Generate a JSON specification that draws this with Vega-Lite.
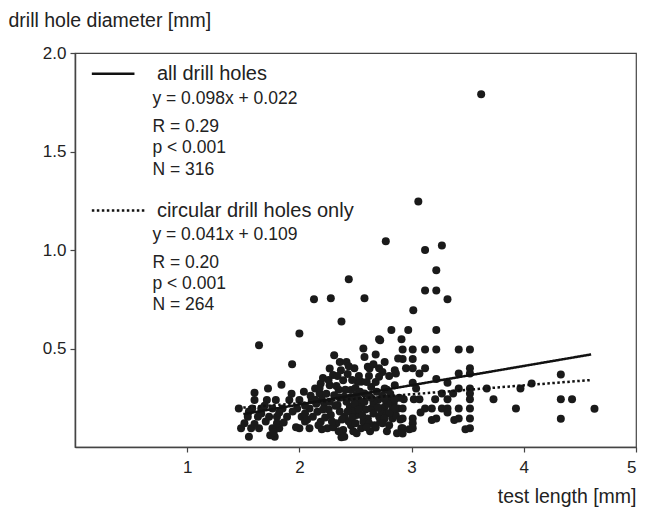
{
  "$schema": "https://vega.github.io/schema/vega-lite/v6.json",
  "width": 561,
  "height": 394,
  "autosize": {"type": "none"},
  "padding": {"left": 75, "top": 53, "right": 20, "bottom": 62},
  "config": {
    "font": "Liberation Sans",
    "view": {"stroke": "#444", "strokeWidth": 1.2},
    "axis": {"grid": false, "domainColor": "#444", "domainWidth": 1.5, "tickColor": "#444", "tickWidth": 1.2, "tickSize": 5, "labelFont": "Liberation Sans", "labelFontSize": 17, "labelColor": "#222", "titleFont": "Liberation Sans", "titleFontSize": 19.5, "titleFontWeight": "normal", "titleColor": "#222"}
  },
  "datasets": {
    "holes": [
      {"len":1.64,"dia":0.517},{"len":1.935,"dia":0.42},{"len":1.84,"dia":0.316},{"len":1.72,"dia":0.297},{"len":1.60,"dia":0.275},{"len":2.14,"dia":0.297},
      {"len":1.60,"dia":0.238},{"len":1.71,"dia":0.238},{"len":1.79,"dia":0.238},{"len":1.91,"dia":0.238},{"len":2.00,"dia":0.238},{"len":2.11,"dia":0.238},
      {"len":1.46,"dia":0.196},{"len":1.58,"dia":0.196},{"len":1.66,"dia":0.196},{"len":1.76,"dia":0.196},{"len":1.85,"dia":0.196},{"len":1.98,"dia":0.196},{"len":2.09,"dia":0.196},
      {"len":1.54,"dia":0.154},{"len":1.63,"dia":0.154},{"len":1.73,"dia":0.154},{"len":1.80,"dia":0.154},{"len":1.89,"dia":0.154},{"len":2.02,"dia":0.154},{"len":2.12,"dia":0.154},
      {"len":1.48,"dia":0.095},{"len":1.57,"dia":0.095},{"len":1.64,"dia":0.095},{"len":1.76,"dia":0.095},{"len":1.82,"dia":0.095},{"len":2.00,"dia":0.095},{"len":2.09,"dia":0.095},
      {"len":1.55,"dia":0.052},{"len":1.78,"dia":0.052},{"len":2.00,"dia":0.576},
      {"len":1.60,"dia":0.117},{"len":1.74,"dia":0.06},{"len":1.80,"dia":0.12},{"len":1.97,"dia":0.10},{"len":1.69,"dia":0.21},{"len":1.82,"dia":0.175},{"len":1.94,"dia":0.18},{"len":2.05,"dia":0.21},{"len":1.70,"dia":0.13},{"len":1.86,"dia":0.125},{"len":1.77,"dia":0.075},{"len":2.05,"dia":0.13},{"len":1.93,"dia":0.27},{"len":2.04,"dia":0.28},{"len":1.66,"dia":0.17},{"len":1.55,"dia":0.18},{"len":1.51,"dia":0.12},
      {"len":2.13,"dia":0.75},{"len":2.28,"dia":0.755},{"len":2.58,"dia":0.755},{"len":2.44,"dia":0.851},{"len":2.375,"dia":0.637},
      {"len":2.57,"dia":0.50},{"len":2.72,"dia":0.542},{"len":2.58,"dia":0.457},{"len":2.31,"dia":0.466},{"len":2.36,"dia":0.432},{"len":2.42,"dia":0.432},{"len":2.88,"dia":0.449},{"len":2.76,"dia":0.432},{"len":2.61,"dia":0.407},{"len":2.74,"dia":0.381},{"len":2.86,"dia":0.373},{"len":2.71,"dia":0.356},{"len":2.30,"dia":0.365},{"len":2.39,"dia":0.339},{"len":2.19,"dia":0.322},{"len":2.27,"dia":0.314},{"len":2.55,"dia":0.331},{"len":2.64,"dia":0.305},{"len":2.85,"dia":0.314},{"len":2.46,"dia":0.289},{"len":2.18,"dia":0.272},{"len":2.31,"dia":0.263},{"len":2.40,"dia":0.255},{"len":2.51,"dia":0.263},{"len":2.58,"dia":0.272},{"len":2.70,"dia":0.238},{"len":2.80,"dia":0.247},{"len":2.22,"dia":0.221},{"len":2.34,"dia":0.213},{"len":2.45,"dia":0.204},{"len":2.55,"dia":0.213},{"len":2.64,"dia":0.196},{"len":2.76,"dia":0.204},{"len":2.88,"dia":0.196},{"len":2.16,"dia":0.179},{"len":2.28,"dia":0.162},{"len":2.40,"dia":0.154},{"len":2.51,"dia":0.162},{"len":2.61,"dia":0.145},{"len":2.71,"dia":0.154},{"len":2.83,"dia":0.145},{"len":2.19,"dia":0.128},{"len":2.33,"dia":0.12},{"len":2.46,"dia":0.111},{"len":2.67,"dia":0.111},{"len":2.80,"dia":0.111},{"len":2.25,"dia":0.095},{"len":2.39,"dia":0.086},{"len":2.91,"dia":0.095},{"len":2.40,"dia":0.052},{"len":2.55,"dia":0.095},
      {"len":2.27,"dia":0.398},{"len":2.625,"dia":0.398},{"len":2.85,"dia":0.39},{"len":2.52,"dia":0.331},
      {"len":2.375,"dia":0.05},{"len":2.51,"dia":0.07},{"len":2.68,"dia":0.099},{"len":2.87,"dia":0.07},{"len":2.98,"dia":0.09},
      {"len":2.20,"dia":0.24},{"len":2.26,"dia":0.19},{"len":2.36,"dia":0.18},{"len":2.42,"dia":0.23},{"len":2.48,"dia":0.185},{"len":2.53,"dia":0.24},{"len":2.59,"dia":0.19},{"len":2.62,"dia":0.26},{"len":2.66,"dia":0.225},{"len":2.35,"dia":0.29},{"len":2.23,"dia":0.15},{"len":2.30,"dia":0.10},{"len":2.44,"dia":0.13},{"len":2.57,"dia":0.13},{"len":2.63,"dia":0.08},{"len":2.50,"dia":0.30},{"len":2.43,"dia":0.37},{"len":2.49,"dia":0.40},{"len":2.68,"dia":0.33},{"len":2.78,"dia":0.29},{"len":2.73,"dia":0.18},{"len":2.84,"dia":0.22},{"len":2.21,"dia":0.35},{"len":2.37,"dia":0.39},
      {"len":2.05,"dia":0.17},{"len":2.10,"dia":0.26},{"len":2.15,"dia":0.22},{"len":2.17,"dia":0.11},{"len":2.21,"dia":0.19},{"len":2.24,"dia":0.27},{"len":2.27,"dia":0.23},{"len":2.29,"dia":0.13},{"len":2.32,"dia":0.21},{"len":2.33,"dia":0.31},{"len":2.36,"dia":0.25},{"len":2.38,"dia":0.14},{"len":2.41,"dia":0.29},{"len":2.43,"dia":0.18},{"len":2.45,"dia":0.25},{"len":2.47,"dia":0.15},{"len":2.49,"dia":0.22},{"len":2.50,"dia":0.12},{"len":2.53,"dia":0.19},{"len":2.54,"dia":0.28},{"len":2.56,"dia":0.16},{"len":2.58,"dia":0.23},{"len":2.60,"dia":0.33},{"len":2.62,"dia":0.12},{"len":2.64,"dia":0.25},{"len":2.66,"dia":0.17},{"len":2.69,"dia":0.28},{"len":2.70,"dia":0.20},{"len":2.72,"dia":0.13},{"len":2.74,"dia":0.26},{"len":2.78,"dia":0.17},{"len":2.79,"dia":0.22},{"len":2.81,"dia":0.27},{"len":2.83,"dia":0.19},{"len":2.86,"dia":0.16},{"len":2.89,"dia":0.25},{"len":2.90,"dia":0.14},{"len":2.26,"dia":0.34},{"len":2.34,"dia":0.36},{"len":2.47,"dia":0.34},{"len":2.62,"dia":0.36},{"len":2.66,"dia":0.42},{"len":2.53,"dia":0.36},{"len":2.44,"dia":0.41},{"len":2.68,"dia":0.47},{"len":2.80,"dia":0.36},{"len":2.14,"dia":0.24},{"len":2.07,"dia":0.14},{"len":2.18,"dia":0.30},{"len":2.20,"dia":0.09},{"len":2.35,"dia":0.08},{"len":2.48,"dia":0.08},{"len":2.60,"dia":0.10},{"len":2.78,"dia":0.08},
      {"len":3.015,"dia":0.694},{"len":2.82,"dia":0.594},{"len":2.97,"dia":0.594},{"len":3.22,"dia":0.594},{"len":2.71,"dia":0.547},{"len":2.91,"dia":0.547},
      {"len":2.92,"dia":0.495},{"len":3.01,"dia":0.495},{"len":3.12,"dia":0.495},{"len":3.22,"dia":0.495},{"len":3.42,"dia":0.495},{"len":3.52,"dia":0.495},
      {"len":2.92,"dia":0.447},{"len":3.01,"dia":0.447},
      {"len":2.71,"dia":0.40},{"len":2.95,"dia":0.40},{"len":3.01,"dia":0.40},{"len":3.12,"dia":0.40},{"len":3.52,"dia":0.40},
      {"len":3.07,"dia":0.373},{"len":3.42,"dia":0.373},{"len":3.52,"dia":0.373},
      {"len":3.22,"dia":0.345},{"len":3.01,"dia":0.326},{"len":3.32,"dia":0.326},
      {"len":2.76,"dia":0.297},{"len":3.04,"dia":0.297},{"len":3.42,"dia":0.297},{"len":3.52,"dia":0.297},{"len":3.67,"dia":0.297},
      {"len":3.27,"dia":0.272},{"len":3.37,"dia":0.272},{"len":3.52,"dia":0.272},
      {"len":2.76,"dia":0.243},{"len":2.85,"dia":0.243},{"len":2.93,"dia":0.243},{"len":3.02,"dia":0.243},{"len":3.07,"dia":0.243},{"len":3.21,"dia":0.243},{"len":3.32,"dia":0.243},{"len":3.52,"dia":0.243},
      {"len":2.85,"dia":0.196},{"len":2.92,"dia":0.196},{"len":3.12,"dia":0.196},{"len":3.18,"dia":0.196},{"len":3.27,"dia":0.196},{"len":3.32,"dia":0.196},{"len":3.42,"dia":0.196},{"len":3.52,"dia":0.196},
      {"len":2.80,"dia":0.171},{"len":3.08,"dia":0.175},{"len":3.32,"dia":0.175},
      {"len":2.76,"dia":0.145},{"len":2.92,"dia":0.145},{"len":3.01,"dia":0.145},{"len":3.22,"dia":0.145},{"len":3.42,"dia":0.145},{"len":3.52,"dia":0.145},
      {"len":2.74,"dia":0.12},{"len":3.01,"dia":0.12},
      {"len":2.92,"dia":0.095},{"len":3.01,"dia":0.095},{"len":3.52,"dia":0.095},{"len":2.92,"dia":0.069},
      {"len":3.18,"dia":0.137},{"len":3.38,"dia":0.137},{"len":3.48,"dia":0.09},
      {"len":3.73,"dia":0.242},{"len":3.93,"dia":0.196},{"len":3.97,"dia":0.297},{"len":4.07,"dia":0.322},{"len":4.33,"dia":0.368},{"len":4.33,"dia":0.242},{"len":4.43,"dia":0.242},{"len":4.33,"dia":0.143},{"len":4.63,"dia":0.194},
      {"len":3.06,"dia":1.246},{"len":2.77,"dia":1.044},{"len":3.12,"dia":1.0},{"len":3.27,"dia":1.023},{"len":3.22,"dia":0.897},{"len":3.12,"dia":0.795},{"len":3.22,"dia":0.795},{"len":3.32,"dia":0.75},{"len":3.62,"dia":1.79}
    ],
    "fits": [
      {"fit":"all","len":1.5,"dia":0.167},{"fit":"all","len":4.6,"dia":0.47},
      {"fit":"circular","len":1.5,"dia":0.2},{"fit":"circular","len":4.6,"dia":0.34}
    ],
    "keys": [
      {"fit":"all","x1":0.15,"x2":0.53,"y":1.895},
      {"fit":"circular","x1":0.15,"x2":0.64,"y":1.2}
    ],
    "notes": [
      {"kind":"head","text":"all drill holes","x":0.73,"y":1.895},
      {"kind":"stat","text":"y = 0.098x + 0.022","x":0.69,"y":1.768},
      {"kind":"stat","text":"R = 0.29","x":0.69,"y":1.626},
      {"kind":"stat","text":"p < 0.001","x":0.69,"y":1.52},
      {"kind":"stat","text":"N = 316","x":0.69,"y":1.408},
      {"kind":"head","text":"circular drill holes only","x":0.73,"y":1.2},
      {"kind":"stat","text":"y = 0.041x + 0.109","x":0.69,"y":1.074},
      {"kind":"stat","text":"R = 0.20","x":0.69,"y":0.932},
      {"kind":"stat","text":"p < 0.001","x":0.69,"y":0.826},
      {"kind":"stat","text":"N = 264","x":0.69,"y":0.719}
    ]
  },
  "layer": [
    {
      "data": {"name": "holes"},
      "mark": {"type": "circle", "size": 64, "color": "#1a1a1a", "opacity": 1},
      "encoding": {
        "x": {"field": "len", "type": "quantitative", "scale": {"domain": [0, 5], "nice": false, "zero": false},
          "axis": {"values": [1, 2, 3, 4, 5], "format": "d", "title": "test length [mm]", "titleAnchor": "end", "titlePadding": 12, "labelPadding": 7}},
        "y": {"field": "dia", "type": "quantitative", "scale": {"domain": [0, 2], "nice": false, "zero": false},
          "axis": {"values": [0.5, 1.0, 1.5, 2.0], "format": ".1f", "title": "drill hole diameter [mm]", "titleAngle": 0, "titleAlign": "left", "titleBaseline": "middle", "titleX": -67, "titleY": -33, "labelPadding": 4}}
      }
    },
    {
      "data": {"name": "fits"},
      "mark": {"type": "line", "strokeWidth": 2.5, "color": "#111"},
      "encoding": {
        "x": {"field": "len", "type": "quantitative"},
        "y": {"field": "dia", "type": "quantitative"},
        "detail": {"field": "fit"},
        "strokeDash": {"field": "fit", "type": "nominal", "scale": {"domain": ["all", "circular"], "range": [[1, 0], [2.5, 2.5]]}, "legend": null}
      }
    },
    {
      "data": {"name": "keys"},
      "mark": {"type": "rule", "strokeWidth": 2.5, "color": "#111"},
      "encoding": {
        "x": {"field": "x1", "type": "quantitative"},
        "x2": {"field": "x2"},
        "y": {"field": "y", "type": "quantitative"},
        "strokeDash": {"field": "fit", "type": "nominal", "scale": {"domain": ["all", "circular"], "range": [[1, 0], [2.5, 2.5]]}, "legend": null}
      }
    },
    {
      "data": {"name": "notes"},
      "transform": [{"filter": "datum.kind === 'head'"}],
      "mark": {"type": "text", "align": "left", "baseline": "middle", "fontSize": 20, "color": "#222"},
      "encoding": {
        "x": {"field": "x", "type": "quantitative"},
        "y": {"field": "y", "type": "quantitative"},
        "text": {"field": "text"}
      }
    },
    {
      "data": {"name": "notes"},
      "transform": [{"filter": "datum.kind === 'stat'"}],
      "mark": {"type": "text", "align": "left", "baseline": "middle", "fontSize": 17.5, "color": "#222"},
      "encoding": {
        "x": {"field": "x", "type": "quantitative"},
        "y": {"field": "y", "type": "quantitative"},
        "text": {"field": "text"}
      }
    }
  ]
}
